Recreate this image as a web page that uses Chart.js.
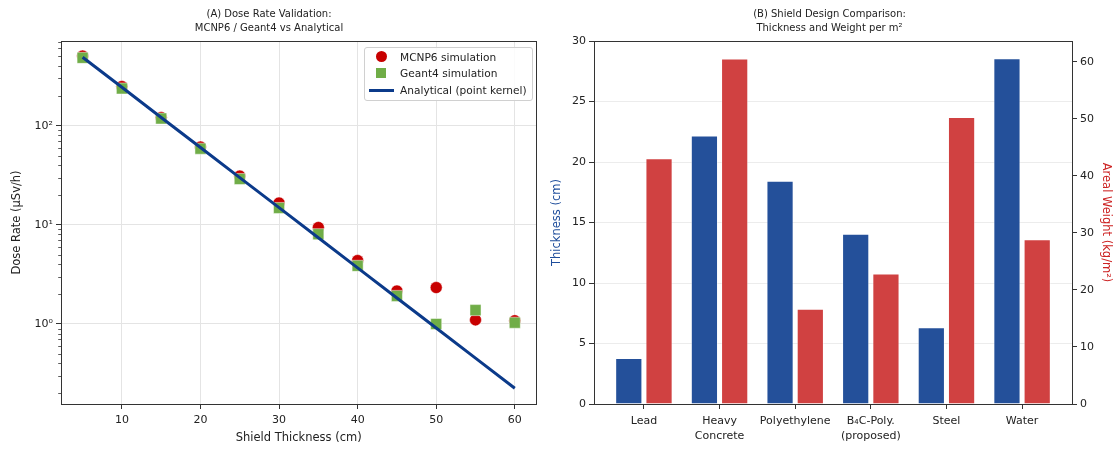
<!DOCTYPE html>
<html>
<head>
<meta charset="utf-8">
<script src="https://cdn.jsdelivr.net/npm/chart.js@4.4.1/dist/chart.umd.min.js"></script>
<style>
  html, body { margin: 0; padding: 0; background: #fff; }
  body { width: 1114px; height: 449px; position: relative; overflow: hidden; font-family: "DejaVu Sans", sans-serif; }
  #c1 { position: absolute; left: 0; top: 0; }
  #c2 { position: absolute; left: 545px; top: 0; }
  #legend { position: absolute; left: 364px; top: 47px; width: 167px; height: 52px; border: 1px solid #d0d0d0; border-radius: 3px; background: rgba(255,255,255,0.85); font-size: 10.6px; color: #222; }
  .item { position: absolute; left: 0; height: 14px; line-height: 14px; white-space: nowrap; }
  .item span.t { position: absolute; left: 35px; top: 0; }
  .mk { position: absolute; }
</style>
</head>
<body>
<canvas id="c1" width="545" height="449"></canvas>
<canvas id="c2" width="569" height="449"></canvas>
<div id="legend">
  <div class="item" style="top:1.5px"><div class="mk" style="left:10.5px;top:1.5px;width:11px;height:11px;border-radius:50%;background:#c80000"></div><span class="t">MCNP6 simulation</span></div>
  <div class="item" style="top:18px"><div class="mk" style="left:11px;top:2px;width:10px;height:10px;background:#70ad47"></div><span class="t">Geant4 simulation</span></div>
  <div class="item" style="top:35px"><div class="mk" style="left:3.5px;top:5.5px;width:25px;height:3px;background:#0b3a8a"></div><span class="t">Analytical (point kernel)</span></div>
</div>
<script>
// ---------- data: panel A ----------
const thicknessCm = [5, 10, 15, 20, 25, 30, 35, 40, 45, 50, 55, 60];
const mcnp6Dose   = [503, 248, 121, 61, 31, 16.6, 9.4, 4.36, 2.15, 2.33, 1.1, 1.08];
const geant4Dose  = [483, 237, 118, 58.6, 29, 14.8, 8.05, 3.86, 1.92, 1.0, 1.38, 1.03];
const analyticalDose = [490, 244, 121, 60.2, 29.9, 14.9, 7.41, 3.68, 1.83, 0.91, 0.453, 0.225];
const xTicksA = [10, 20, 30, 40, 50, 60];

// ---------- data: panel B ----------
const materials = [["Lead"], ["Heavy", "Concrete"], ["Polyethylene"], ["B\u2084C-Poly.", "(proposed)"], ["Steel"], ["Water"]];
const shieldThickness = [3.8, 22.2, 18.45, 14.07, 6.34, 28.57];
const arealWeight = [43.1, 60.6, 16.7, 22.9, 50.35, 28.9];
const thicknessTicks = [0, 5, 10, 15, 20, 25, 30];
const weightTicks = [0, 10, 20, 30, 40, 50, 60];

const FONT = "DejaVu Sans";
const TXT = "#222";
const AX = "#333";
const GRID = "#e4e4e4";

const frame = {
  id: 'frame',
  afterDraw(chart) {
    const a = chart.chartArea, ctx = chart.ctx;
    ctx.save();
    ctx.strokeStyle = AX; ctx.lineWidth = 1;
    ctx.strokeRect(Math.round(a.left) + 0.5, Math.round(a.top) + 0.5, Math.round(a.right - a.left), Math.round(a.bottom - a.top));
    ctx.restore();
  }
};

const isDecade = v => Math.abs(Math.log10(v) - Math.round(Math.log10(v))) < 1e-9;
const sup = {"-1": "\u207b\u00b9", "0": "\u2070", "1": "\u00b9", "2": "\u00b2", "3": "\u00b3"};

const minorTicks = {
  id: 'minorTicks',
  afterDraw(chart) {
    const s = chart.scales.y, a = chart.chartArea, ctx = chart.ctx;
    ctx.save();
    ctx.strokeStyle = AX; ctx.lineWidth = 0.8;
    s.ticks.forEach(t => {
      if (isDecade(t.value)) return;
      const y = Math.round(s.getPixelForValue(t.value)) + 0.5;
      ctx.beginPath(); ctx.moveTo(a.left - 2.8, y); ctx.lineTo(a.left, y); ctx.stroke();
    });
    ctx.restore();
  }
};

const pts = arr => thicknessCm.map((x, i) => ({x, y: arr[i]}));

new Chart(document.getElementById('c1'), {
  type: 'scatter',
  data: {
    datasets: [
      { label: 'MCNP6 simulation', data: pts(mcnp6Dose), pointStyle: 'circle', pointRadius: 6,
        backgroundColor: '#c80000', borderColor: 'rgba(255,255,255,0.6)', borderWidth: 0.8, order: 3 },
      { label: 'Geant4 simulation', data: pts(geant4Dose), pointStyle: 'rect', pointRadius: 7.8,
        backgroundColor: '#70ad47', borderColor: 'rgba(255,255,255,0.6)', borderWidth: 0.8, order: 2 },
      { type: 'line', label: 'Analytical (point kernel)', data: pts(analyticalDose), showLine: true,
        borderColor: '#0b3a8a', borderWidth: 3, pointRadius: 0, fill: false, order: 1, tension: 0 }
    ]
  },
  options: {
    responsive: false, animation: false,
    layout: { padding: { left: 0, right: 7, top: 0, bottom: 0 } },
    plugins: {
      legend: { display: false }, tooltip: { enabled: false },
      title: { display: true, text: ['(A) Dose Rate Validation:', 'MCNP6 / Geant4 vs Analytical'],
        font: { family: FONT, size: 10, weight: 'normal', lineHeight: 1.45 }, color: TXT,
        padding: { top: 7, bottom: 5 } }
    },
    scales: {
      x: {
        type: 'linear', min: 2.25, max: 62.75,
        afterBuildTicks: s => { s.ticks = xTicksA.map(v => ({value: v})); },
        afterFit: s => { s.height = 45; },
        ticks: { font: { family: FONT, size: 11 }, color: TXT, padding: 5, maxRotation: 0 },
        grid: { color: GRID, lineWidth: 1, tickColor: AX, tickLength: 5 },
        border: { display: false },
        title: { display: true, text: 'Shield Thickness (cm)', font: { family: FONT, size: 11.5 }, color: TXT, padding: { top: 0, bottom: 4 } }
      },
      y: {
        type: 'logarithmic', min: 0.156, max: 714,
        afterBuildTicks: s => {
          const t = [];
          for (let e = -1; e <= 2; e++) for (let m = 1; m <= 9; m++) {
            const v = m * Math.pow(10, e);
            if (v >= 0.156 && v <= 714) t.push({value: v, major: m === 1});
          }
          s.ticks = t;
        },
        afterFit: s => { s.width = 61; },
        ticks: {
          autoSkip: false, font: { family: FONT, size: 11 }, color: TXT, padding: 3,
          callback: v => isDecade(v) ? '10' + sup[String(Math.round(Math.log10(v)))] : ''
        },
        grid: {
          color: c => (c.tick && isDecade(c.tick.value)) ? GRID : 'rgba(0,0,0,0)',
          tickColor: c => (c.tick && isDecade(c.tick.value)) ? AX : 'rgba(0,0,0,0)',
          tickLength: 5, lineWidth: 1
        },
        border: { display: false },
        title: { display: true, text: 'Dose Rate (\u00b5Sv/h)', font: { family: FONT, size: 11.5 }, color: TXT, padding: { top: 10, bottom: 0 } }
      }
    }
  },
  plugins: [frame, minorTicks]
});

// ---------- panel B ----------
new Chart(document.getElementById('c2'), {
  type: 'bar',
  data: {
    datasets: [
      { label: 'Thickness (cm)', data: shieldThickness.map((v, i) => ({x: i, y: v})), yAxisID: 'y',
        backgroundColor: '#24509a', borderColor: 'rgba(255,255,255,0.45)', borderWidth: 1 },
      { label: 'Areal Weight (kg/m\u00b2)', data: arealWeight.map((v, i) => ({x: i, y: v})), yAxisID: 'y1',
        backgroundColor: '#d04141', borderColor: 'rgba(255,255,255,0.45)', borderWidth: 1 }
    ]
  },
  options: {
    responsive: false, animation: false,
    categoryPercentage: 0.8, barPercentage: 0.9,
    layout: { padding: 0 },
    plugins: {
      legend: { display: false }, tooltip: { enabled: false },
      title: { display: true, text: ['(B) Shield Design Comparison:', 'Thickness and Weight per m\u00b2'],
        font: { family: FONT, size: 10, weight: 'normal', lineHeight: 1.45 }, color: TXT,
        padding: { top: 7, bottom: 5 } }
    },
    scales: {
      x: {
        type: 'linear', min: -0.66, max: 5.66, offset: false,
        afterBuildTicks: s => { s.ticks = materials.map((m, i) => ({value: i})); },
        afterFit: s => { s.height = 45; },
        ticks: { font: { family: FONT, size: 11, lineHeight: 1.4 }, color: TXT, padding: 4, maxRotation: 0, autoSkip: false,
          callback: v => materials[v] },
        grid: { offset: false, drawOnChartArea: false, tickColor: AX, tickLength: 5 },
        border: { display: false }
      },
      y: {
        position: 'left', min: 0, max: 30,
        afterBuildTicks: s => { s.ticks = thicknessTicks.map(v => ({value: v})); },
        afterFit: s => { s.width = 49; },
        ticks: { font: { family: FONT, size: 11 }, color: TXT, padding: 3 },
        grid: { color: '#ececec', tickColor: AX, tickLength: 5 },
        border: { display: false },
        title: { display: true, text: 'Thickness (cm)', font: { family: FONT, size: 11.5 }, color: '#1f4e9c', padding: { top: 5, bottom: 0 } }
      },
      y1: {
        position: 'right', min: 0, max: 63.68,
        afterBuildTicks: s => { s.ticks = weightTicks.map(v => ({value: v})); },
        afterFit: s => { s.width = 42; },
        ticks: { font: { family: FONT, size: 11 }, color: TXT, padding: 3 },
        grid: { drawOnChartArea: false, tickColor: AX, tickLength: 5 },
        border: { display: false },
        title: { display: true, text: 'Areal Weight (kg/m\u00b2)', font: { family: FONT, size: 11.5 }, color: '#cc2222', padding: { top: 1.5, bottom: 0 } }
      }
    }
  },
  plugins: [frame]
});
</script>
</body>
</html>
